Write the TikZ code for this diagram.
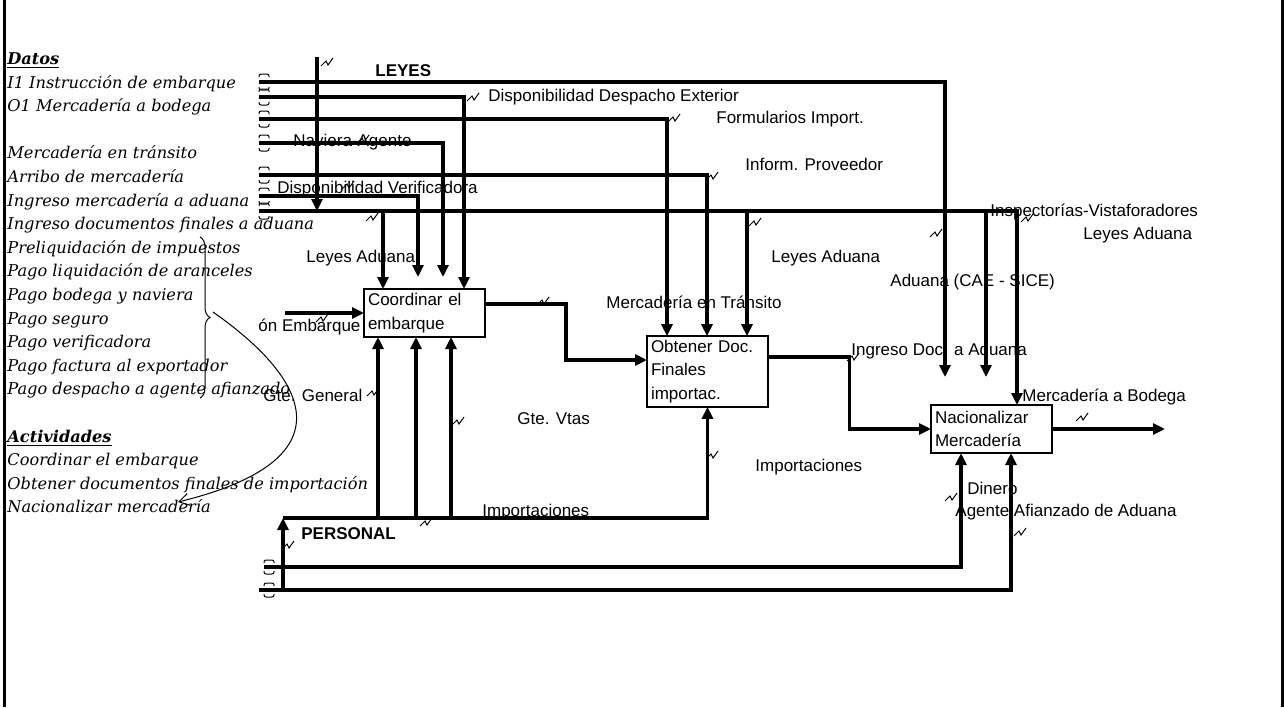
\documentclass[tikz,border=0pt]{standalone}
\usepackage{fontspec}
\setmainfont{Liberation Sans}
\newfontfamily\handfont{DejaVu Serif}
\usetikzlibrary{arrows.meta,calc,decorations.pathreplacing}
\tikzset{
  act/.style={draw, line width=1.1pt, outer sep=0pt, minimum width=60.5pt, inner sep=2pt,
              text width=56.5pt, align=left, font=\fontsize{8.5}{11.7}\selectfont},
  ln/.style={line width=1.6pt},
  ar/.style={ln, -{Triangle[length=6pt,width=5.5pt]}},
  lbl/.style={anchor=base west, inner sep=0pt, font=\fontsize{8.5}{10}\selectfont},
  hd/.style={lbl, font=\fontsize{8.5}{10}\selectfont\bfseries},
  hand/.style={anchor=base west, inner sep=0pt, font=\handfont\itshape\fontsize{8.1}{9}\selectfont},
  thin/.style={line width=0.5pt},
  brk/.style={thin, rounded corners=1pt},
  squig/.pic={\draw[thin] (-6,4) -- (-1,-1) -- (1,3) -- (6,-4);},
}

\begin{document}
\begin{tikzpicture}[x=0.5pt,y=-0.5pt]
\useasboundingbox (0,0) rectangle (1284,707);

% frame
\draw[line width=1.75pt] (4.5,0) -- (4.5,707);
\draw[line width=1.5pt] (1282.5,0) -- (1282.5,707);

% --- lists on the left ---
\node[hand] (datos) at (7,64.5) {\underline{\bfseries Datos}};
\foreach \k/\t in {1/I1 Instrucción de embarque, 2/O1 Mercadería a bodega,
    4/Mercadería en tránsito, 5/Arribo de mercadería, 6/Ingreso mercadería a aduana,
    7/Ingreso documentos finales a aduana, 8/Preliquidación de impuestos,
    9/Pago liquidación de aranceles, 10/Pago bodega y naviera, 11/Pago seguro,
    12/Pago verificadora, 13/Pago factura al exportador,
    14/Pago despacho a agente afianzado}
  \node[hand] (dat\k) at (7,{64.5+23.6*\k}) {\t};
\node[hand] (activ) at (7,{64.5+23.6*16}) {\underline{\bfseries Actividades}};
\foreach \k/\t in {17/Coordinar el embarque, 18/Obtener documentos finales de importación,
    19/Nacionalizar mercadería}
  \node[hand] (act\k) at (7,{64.5+23.6*\k}) {\t};

\draw[thin, decorate, decoration={brace, amplitude=5pt}] (200,237) -- (200,398);
\coordinate (brTip) at (213,312);
\coordinate (brEnd) at (178,502);
\draw[thin, -{Straight Barb[length=5pt,width=6pt]}] (brTip) .. controls (310,380) and (350,460) .. (brEnd);

% --- activities ---
\node[act, minimum height=24pt] (A) at (424.5,313) {Coordinar el\\embarque};
\node[act, minimum height=34.5pt] (B) at (707.5,371.5) {Obtener Doc.\\Finales\\importac.};
\node[act, minimum height=24pt] (C) at (991.5,429) {Nacionalizar\\Mercadería};

\coordinate (aT1) at ($(A.north west)+(19,0)$);
\coordinate (aT2) at ($(A.north west)+(100,0)$);
\coordinate (fA1) at ($(A.north west)+(54,-12)$);
\coordinate (fA2) at ($(A.north west)+(79,-12)$);
\coordinate (bT1) at ($(B.north west)+(20,0)$);
\coordinate (bT2) at ($(B.north west)+(60,0)$);
\coordinate (bT3) at ($(B.north west)+(100,0)$);
\coordinate (cT)  at ($(C.north west)+(86,0)$);
\coordinate (fC1) at ($(C.north west)+(14,-28)$);
\coordinate (fC2) at ($(C.north west)+(55,-28)$);
\coordinate (aB1) at ($(A.south west)+(14,0)$);
\coordinate (aB2) at ($(A.south west)+(52,0)$);
\coordinate (aB3) at ($(A.south west)+(87,0)$);
\coordinate (cB1) at ($(C.south west)+(30,0)$);
\coordinate (cB2) at ($(C.south west)+(80,0)$);

% --- controls (tunnelled) ---
\foreach \n/\yy in {1/82,2/97,3/119,4/143,5/175,6/196,7/211} {
  \coordinate (t\n) at (259,\yy);
  \draw[brk] (259,\yy-5) -- (259,\yy-8) -- (269,\yy-8) -- (269,\yy-5);
  \draw[brk] (259,\yy+5) -- (259,\yy+8) -- (269,\yy+8) -- (269,\yy+5);
}
\coordinate (ly) at (317,57);
\draw[ar] (ly) -- (ly |- t7);
\draw[ar] (t1) -| (fC1);
\draw[ar] (t2) -| (aT2);
\draw[ar] (t3) -| (bT1);
\draw[ar] (t4) -| (fA2);
\draw[ar] (t5) -| (bT2);
\draw[ar] (t6) -| (fA1);
\draw[ar] (t7) -| (cT);
\foreach \c in {aT1,bT3,fC2} \draw[ar] (\c |- t7) -- (\c);

% --- inputs / outputs ---
\coordinate (iA) at (285,313);
\draw[ar] (iA) -- (A.west);
\coordinate (oA) at ($(A.east)+(0,-9)$);
\coordinate (iB) at ($(B.west)+(0,-11.5)$);
\draw[ar] (oA) -| ($(oA)!.5!(iB)$) |- (iB);
\coordinate (oB) at ($(B.east)+(0,-14.5)$);
\draw[ar] (oB) -| ($(oB)!.5!(C.west)$) |- (C.west);
\coordinate (oC) at (1165,429);
\draw[ar] (C.east) -- (oC);

% --- mechanisms ---
\foreach \n/\yy/\xx in {1/567/264,2/590/259} {
  \coordinate (m\n) at (\xx,\yy);
  \draw[brk] (264,\yy-4) -- (264,\yy-7) -- (274,\yy-7) -- (274,\yy-4);
  \draw[brk] (264,\yy+4) -- (264,\yy+7) -- (274,\yy+7) -- (274,\yy+4);
}
\coordinate (pe) at (283,518);
\draw[ar] (m1) -| (cB1);
\draw[ar] (m2) -| (cB2);
\draw[ar] (pe |- m2) -- (pe);
\draw[ar] (pe) -| (B.south);
\foreach \c in {aB1,aB2,aB3} \draw[ar] (\c |- pe) -- (\c);

% --- labels ---
\node[hd]  (lLeyes)  at (375,76)   {LEYES};
\node[lbl] (lDesp)   at (488,101)  {Disponibilidad Despacho Exterior};
\node[lbl] (lForm)   at (716,123)  {Formularios Import.};
\node[lbl] (lNav)    at (293,146)  {Naviera-Agente};
\node[lbl] (lProv)   at (745,170)  {Inform. Proveedor};
\node[lbl] (lVerif)  at (277,193)  {Disponibilidad Verificadora};
\node[lbl] (lInsp)   at (990,216)  {Inspectorías-Vistaforadores};
\node[lbl] (lLeyC)   at (1083,239) {Leyes Aduana};
\node[lbl] (lLeyB)   at (771,262)  {Leyes Aduana};
\node[lbl] (lLeyA)   at (306,262)  {Leyes Aduana};
\node[lbl] (lSice)   at (890,286)  {Aduana (CAE - SICE)};
\node[lbl] (lTrans)  at (606,308)  {Mercadería en Tránsito};
\node[lbl] (lEmb)    at (258,331)  {ón Embarque};
\node[lbl] (lIngr)   at (851,355)  {Ingreso Doc. a Aduana};
\node[lbl] (lGteG)   at (263,401)  {Gte. General};
\node[lbl] (lBod)    at (1022,401) {Mercadería a Bodega};
\node[lbl] (lGteV)   at (517,424)  {Gte. Vtas};
\node[lbl] (lImpB)   at (755,471)  {Importaciones};
\node[lbl] (lDin)    at (967,494)  {Dinero};
\node[lbl] (lImpA)   at (482,516)  {Importaciones};
\node[lbl] (lAgente) at (955,516)  {Agente Afianzado de Aduana};
\node[hd]  (lPers)   at (301,539)  {PERSONAL};

% squiggles
\foreach \sx/\sy in {327/62,473/97,674/118,363/139,712/176,348/185,372/217,755/222,
    936/233,1027/218,543/301,322/318,853/357,373/392,1082/417,458/421,712/455,
    951/497,426/522,1020/532,288/545}
  \pic at (\sx,\sy) {squig};

\end{tikzpicture}
\end{document}
